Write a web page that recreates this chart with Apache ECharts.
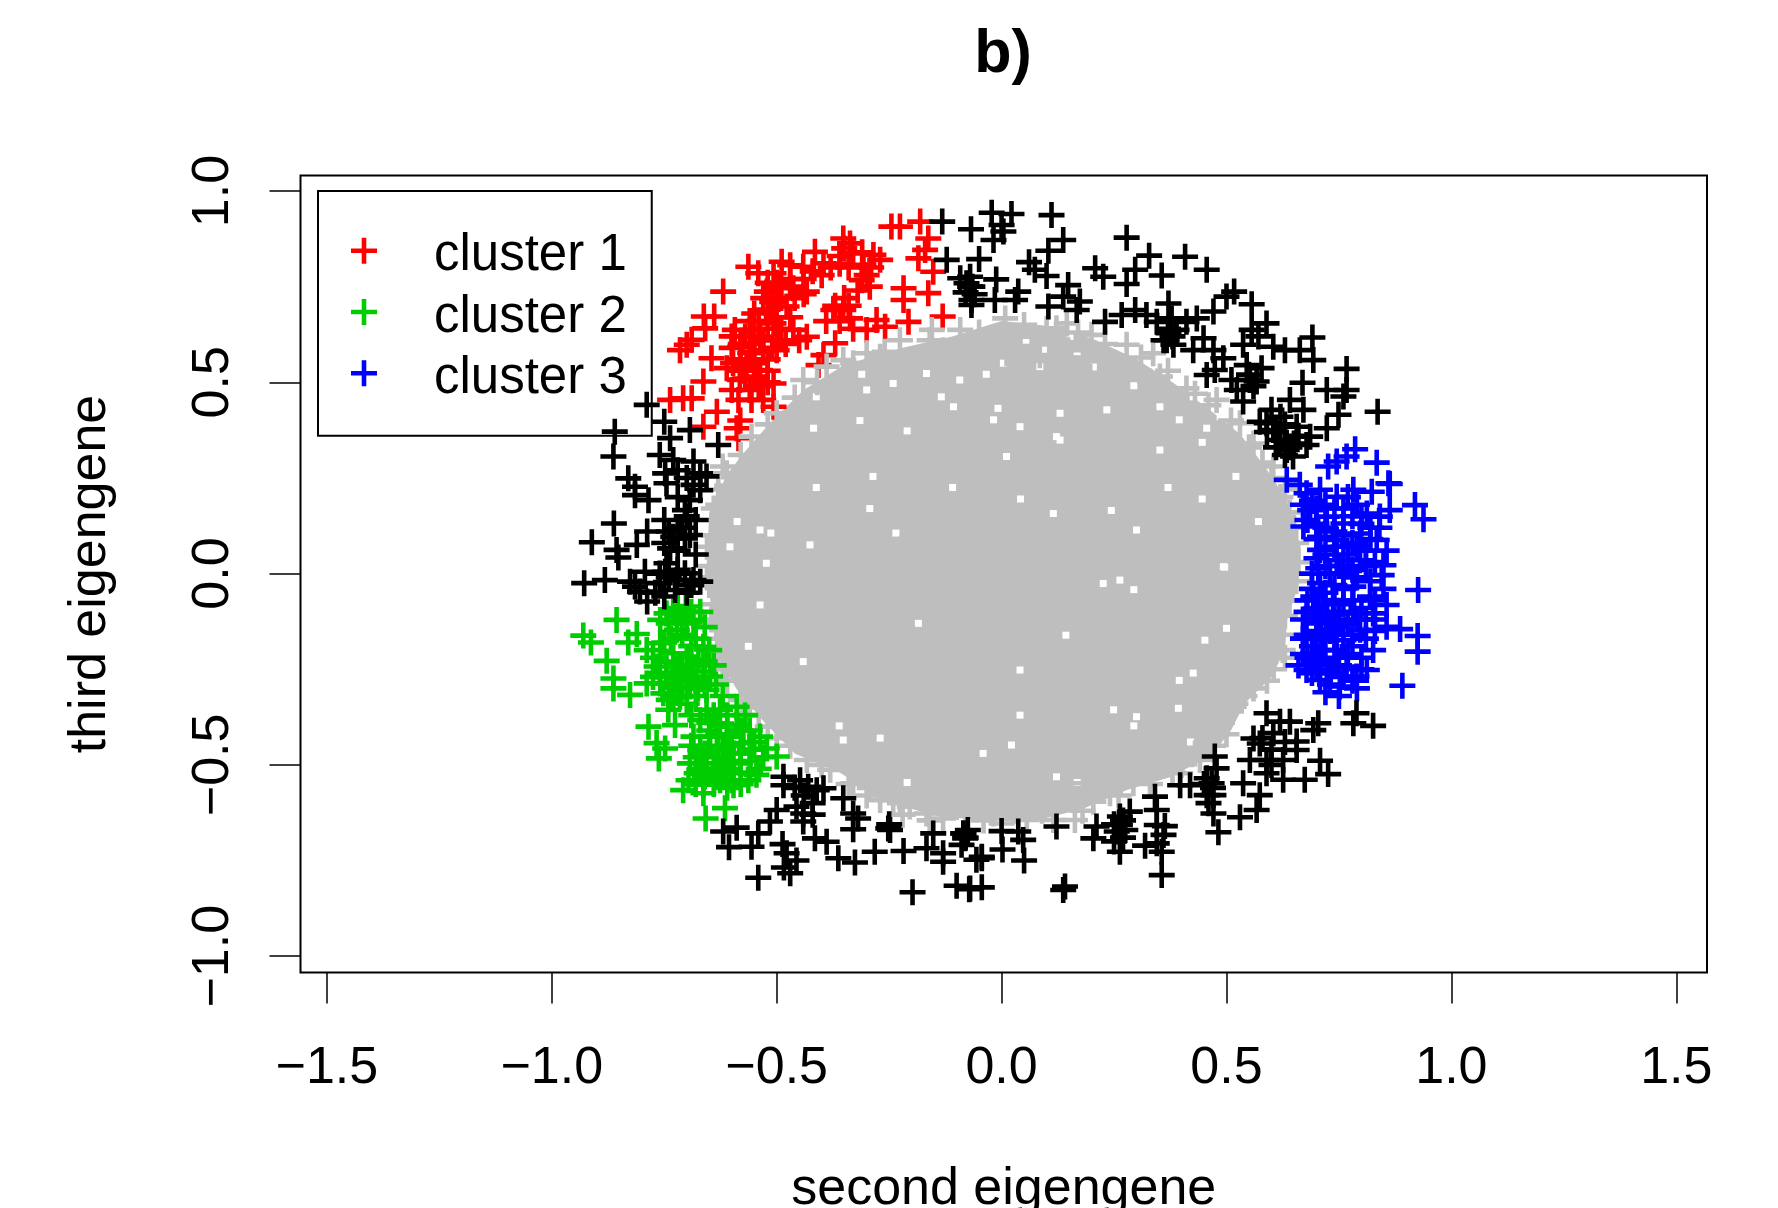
<!DOCTYPE html>
<html><head><meta charset="utf-8"><style>html,body{margin:0;padding:0;background:#fff;overflow:hidden}#c{width:1778px;height:1208px}</style>
<script src="https://cdn.jsdelivr.net/npm/echarts@6/dist/echarts.min.js"></script></head><body><div id="c"></div><script>
const xTicks=[-1.5,-1,-0.5,0,0.5,1,1.5];
const yTicks=[-1,-0.5,0,0.5,1];
const black=[[-0.022,0.943],[0.022,0.94],[0.111,0.937],[-0.068,0.9],[0,0.911],[-0.018,0.872],[0.004,0.894],[0.278,0.878],[0.137,0.872],[0.104,0.844],[-0.05,0.822],[0.328,0.831],[0.408,0.828],[0.061,0.814],[0.456,0.794],[0.208,0.798],[0.226,0.776],[0.297,0.794],[0.356,0.779],[0.278,0.757],[0.074,0.794],[0.1,0.778],[0.148,0.754],[-0.012,0.769],[0.037,0.737],[-0.07,0.776],[-0.07,0.75],[-0.067,0.715],[-0.015,0.715],[0.03,0.715],[0.104,0.698],[0.137,0.724],[0.174,0.711],[0.167,0.689],[0.517,0.737],[0.556,0.704],[0.371,0.706],[0.267,0.676],[0.297,0.689],[0.23,0.658],[0.322,0.676],[0.345,0.658],[0.378,0.667],[0.411,0.658],[0.434,0.667],[0.471,0.685],[0.5,0.724],[0.589,0.654],[0.556,0.637],[0.691,0.617],[0.537,0.598],[0.571,0.62],[0.371,0.628],[0.382,0.598],[0.449,0.615],[0.426,0.584],[0.471,0.584],[0.63,0.584],[0.604,0.593],[0.663,0.584],[0.693,0.558],[0.493,0.563],[0.474,0.532],[0.456,0.519],[0.545,0.545],[0.578,0.537],[0.552,0.506],[0.567,0.502],[0.511,0.506],[0.523,0.48],[0.537,0.45],[0.767,0.535],[0.669,0.499],[0.723,0.48],[0.767,0.48],[0.76,0.463],[0.836,0.423],[0.749,0.415],[0.723,0.38],[0.641,0.454],[0.671,0.428],[0.6,0.428],[0.574,0.397],[0.604,0.375],[0.656,0.384],[0.686,0.358],[0.678,0.336],[0.634,0.323],[0.648,0.306],[0.619,0.349],[0.589,0.393],[0.367,0.61],[0.389,0.637],
[0.826,-0.398],[0.782,-0.391],[0.789,-0.365],[0.704,-0.391],[0.693,-0.409],[0.619,-0.387],[0.589,-0.365],[0.641,-0.387],[0.656,-0.439],[0.656,-0.461],[0.604,-0.417],[0.56,-0.431],[0.574,-0.444],[0.552,-0.487],[0.589,-0.487],[0.626,-0.487],[0.708,-0.489],[0.726,-0.524],[0.674,-0.539],[0.626,-0.539],[0.589,-0.522],[0.537,-0.548],[0.574,-0.579],[0.567,-0.618],[0.53,-0.637],[0.471,-0.627],[0.482,-0.676],[0.471,-0.579],[0.456,-0.579],[0.467,-0.548],[0.456,-0.535],[0.478,-0.509],[0.474,-0.478],[0.419,-0.553],[0.397,-0.553],[0.341,-0.583],[0.345,-0.618],[0.345,-0.657],[0.363,-0.66],[0.36,-0.683],[0.356,-0.727],[0.356,-0.788],[0.263,-0.727],[0.263,-0.635],[0.263,-0.657],[0.256,-0.674],[0.285,-0.622],[0.211,-0.661],[0.204,-0.692],[0.319,-0.711],[0.345,-0.705],[0.122,-0.661],[0.141,-0.818],[0.137,-0.827],[0.048,-0.696],[0.037,-0.674],[0,-0.673],[0.002,-0.721],[0.05,-0.75],[-0.044,-0.744],[-0.044,-0.74],[-0.085,-0.679],[-0.081,-0.692],[-0.044,-0.82],[-0.07,-0.823],
[-0.485,-0.531],[-0.485,-0.553],[-0.448,-0.54],[-0.43,-0.557],[-0.411,-0.566],[-0.396,-0.561],[-0.352,-0.587],[-0.5,-0.618],[-0.515,-0.648],[-0.456,-0.609],[-0.441,-0.627],[-0.441,-0.648],[-0.33,-0.627],[-0.319,-0.64],[-0.33,-0.668],[-0.252,-0.666],[-0.248,-0.67],[-0.589,-0.664],[-0.619,-0.674],[-0.541,-0.679],[-0.556,-0.714],[-0.606,-0.715],[-0.487,-0.707],[-0.478,-0.731],[-0.456,-0.75],[-0.484,-0.768],[-0.47,-0.783],[-0.541,-0.795],[-0.415,-0.692],[-0.389,-0.701],[-0.363,-0.744],[-0.326,-0.755],[-0.282,-0.727],[-0.218,-0.725],[-0.167,-0.718],[-0.152,-0.679],[-0.13,-0.731],[-0.13,-0.753],[-0.085,-0.679],[-0.089,-0.709],[-0.198,-0.833],[-0.1,-0.816],[-0.072,-0.825],[-0.056,-0.748],
[-0.789,0.441],[-0.86,0.371],[-0.863,0.306],[-0.75,0.397],[-0.737,0.354],[-0.693,0.375],[-0.63,0.336],[-0.76,0.31],[-0.73,0.297],[-0.685,0.293],[-0.83,0.249],[-0.748,0.262],[-0.67,0.262],[-0.815,0.227],[-0.745,0.236],[-0.685,0.232],[-0.656,0.254],[-0.815,0.205],[-0.785,0.192],[-0.67,0.218],[-0.693,0.192],[-0.704,0.166],[-0.862,0.131],[-0.788,0.11],[-0.75,0.14],[-0.73,0.096],[-0.693,0.101],[-0.911,0.082],[-0.856,0.062],[-0.852,0.042],[-0.811,0.075],[-0.737,0.066],[-0.704,0.092],[-0.745,0.027],[-0.793,0.005],[-0.748,0.005],[-0.704,0.001],[-0.928,-0.025],[-0.882,-0.017],[-0.826,-0.021],[-0.804,-0.047],[-0.788,-0.073],[-0.76,-0.025],[-0.722,-0.017],[-0.685,-0.017],[-0.67,-0.021],[-0.726,-0.043],[-0.815,-0.034],
[-0.132,0.92],[-0.122,0.82],[-0.078,0.759],[-0.092,0.772],[-0.067,0.702],[-0.06,0.73],[-0.08,0.735],[-0.065,0.75],[0.61,0.37],[0.63,0.35],[0.64,0.33],[0.62,0.41],[0.66,0.36],[0.27,-0.645],[0.25,-0.655],[0.275,-0.67],[-0.72,0.01],[-0.74,-0.01],[-0.71,0.12],[-0.72,0.12],[-0.74,0.11],[-0.76,0],[-0.25,-0.655],[-0.08,-0.69],[-0.075,-0.67],
[-0.72,0.27],[-0.7,0.25],[-0.72,0.2],[-0.7,0.15],[-0.68,0.14],[-0.75,0.08],[-0.72,0.06],[-0.68,0.05],[-0.72,0],[-0.69,-0.03],[-0.77,-0.05],[-0.75,-0.06],[-0.7,-0.05],[0.59,0.37],[0.63,0.39],[0.61,0.33],[0.65,0.34],[0.63,0.31],[0.55,0.52],[0.56,0.49],[0.37,0.64],[0.36,0.61],[0.38,0.62],[0.58,-0.43],[0.6,-0.46],[0.63,-0.44],[0.6,-0.5],[0.45,-0.55],[0.47,-0.56],[0.46,-0.6],[-0.44,-0.58],[-0.42,-0.6],[-0.46,-0.56],[-0.42,-0.63],[0.27,-0.69],[0.25,-0.7]];
const cluster1=[[-0.245,0.907],[-0.226,0.907],[-0.181,0.92],[-0.163,0.876],[-0.185,0.824],[-0.17,0.846],[-0.152,0.789],[-0.163,0.733],[-0.218,0.746],[-0.218,0.715],[-0.131,0.672],[-0.207,0.658],[-0.259,0.645],[-0.3,0.637],[-0.278,0.663],[-0.352,0.876],[-0.337,0.863],[-0.285,0.833],[-0.307,0.807],[-0.33,0.837],[-0.415,0.841],[-0.396,0.811],[-0.441,0.802],[-0.489,0.815],[-0.47,0.806],[-0.563,0.802],[-0.541,0.785],[-0.507,0.785],[-0.311,0.767],[-0.293,0.75],[-0.374,0.689],[-0.352,0.689],[-0.337,0.667],[-0.433,0.737],[-0.463,0.746],[-0.522,0.737],[-0.5,0.72],[-0.478,0.698],[-0.619,0.737],[-0.662,0.672],[-0.639,0.672],[-0.659,0.641],[-0.7,0.598],[-0.689,0.611],[-0.715,0.584],[-0.645,0.563],[-0.593,0.637],[-0.552,0.637],[-0.537,0.619],[-0.507,0.654],[-0.463,0.637],[-0.433,0.619],[-0.581,0.593],[-0.559,0.576],[-0.53,0.584],[-0.5,0.584],[-0.597,0.55],[-0.567,0.541],[-0.537,0.532],[-0.611,0.537],[-0.663,0.502],[-0.737,0.454],[-0.708,0.458],[-0.689,0.458],[-0.37,0.602],[-0.396,0.571],[-0.407,0.545],[-0.507,0.497],[-0.545,0.515],[-0.582,0.506],[-0.585,0.454],[-0.556,0.454],[-0.53,0.454],[-0.633,0.423],[-0.663,0.384],[-0.589,0.38],[-0.581,0.4],[-0.585,0.354],[-0.507,0.436],[-0.56,0.66],[-0.54,0.66],[-0.52,0.69],[-0.5,0.67],[-0.53,0.61],[-0.5,0.61],[-0.47,0.67],[-0.55,0.58],[-0.52,0.56],[-0.57,0.51],[-0.54,0.49],[-0.56,0.48],[-0.47,0.77],[-0.49,0.75],[-0.44,0.77],[-0.4,0.78],[-0.36,0.83],[-0.34,0.8],[-0.3,0.78],[-0.52,0.76],[-0.46,0.72],[-0.51,0.71],[-0.6,0.59],[-0.58,0.56],[-0.35,0.72],[-0.34,0.7],[-0.6,0.62],[-0.57,0.62],[-0.55,0.62],[-0.58,0.6],[-0.56,0.6],[-0.52,0.64],[-0.49,0.64],[-0.51,0.59],[-0.48,0.6],[-0.45,0.61],[-0.55,0.55],[-0.52,0.53],[-0.58,0.53],[-0.55,0.51],[-0.52,0.5],[-0.6,0.48],[-0.53,0.72],[-0.49,0.72],[-0.47,0.75],[-0.44,0.73],[-0.42,0.79],[-0.38,0.8],[-0.35,0.85],[-0.31,0.84],[-0.36,0.81],[-0.32,0.74],[-0.29,0.8],[-0.27,0.82],[-0.39,0.66],[-0.36,0.66],[-0.33,0.64],[-0.37,0.7],[-0.5,0.76],[-0.55,0.68]];
const cluster2=[[-0.93,-0.162],[-0.913,-0.18],[-0.856,-0.121],[-0.811,-0.158],[-0.83,-0.18],[-0.878,-0.228],[-0.863,-0.274],[-0.863,-0.3],[-0.826,-0.317],[-0.785,-0.4],[-0.726,-0.396],[-0.741,-0.356],[-0.767,-0.443],[-0.748,-0.457],[-0.762,-0.483],[-0.711,-0.113],[-0.702,-0.086],[-0.745,-0.104],[-0.759,-0.121],[-0.722,-0.147],[-0.685,-0.121],[-0.663,-0.191],[-0.789,-0.2],[-0.759,-0.182],[-0.73,-0.208],[-0.7,-0.217],[-0.674,-0.226],[-0.767,-0.243],[-0.73,-0.26],[-0.7,-0.269],[-0.663,-0.256],[-0.648,-0.269],[-0.789,-0.287],[-0.759,-0.287],[-0.73,-0.295],[-0.693,-0.295],[-0.656,-0.304],[-0.752,-0.313],[-0.715,-0.322],[-0.589,-0.348],[-0.656,-0.356],[-0.626,-0.356],[-0.67,-0.383],[-0.633,-0.391],[-0.589,-0.396],[-0.537,-0.426],[-0.522,-0.457],[-0.5,-0.478],[-0.685,-0.426],[-0.648,-0.426],[-0.611,-0.426],[-0.574,-0.443],[-0.67,-0.461],[-0.633,-0.461],[-0.596,-0.47],[-0.693,-0.496],[-0.656,-0.496],[-0.619,-0.496],[-0.581,-0.496],[-0.678,-0.522],[-0.633,-0.522],[-0.596,-0.522],[-0.559,-0.522],[-0.708,-0.566],[-0.663,-0.574],[-0.615,-0.613],[-0.658,-0.64],[-0.696,-0.54],[-0.626,-0.54],[-0.563,-0.54],[-0.545,-0.526],[-0.663,-0.552],[-0.596,-0.553],[-0.74,-0.13],[-0.72,-0.09],[-0.69,-0.1],[-0.71,-0.16],[-0.68,-0.17],[-0.75,-0.18],[-0.72,-0.24],[-0.69,-0.24],[-0.76,-0.26],[-0.72,-0.28],[-0.68,-0.28],[-0.66,-0.29],[-0.74,-0.33],[-0.7,-0.34],[-0.68,-0.32],[-0.63,-0.42],[-0.65,-0.39],[-0.61,-0.4],[-0.66,-0.47],[-0.62,-0.46],[-0.58,-0.47],[-0.64,-0.51],[-0.61,-0.51],[-0.66,-0.53],[-0.6,-0.54],[-0.58,-0.41],[-0.56,-0.46],[-0.73,-0.1],[-0.67,-0.1],[-0.7,-0.13],[-0.66,-0.14],[-0.735,-0.17],[-0.69,-0.19],[-0.65,-0.2],[-0.775,-0.22],[-0.745,-0.23],[-0.71,-0.25],[-0.66,-0.23],[-0.64,-0.24],[-0.775,-0.27],[-0.745,-0.27],[-0.71,-0.3],[-0.675,-0.3],[-0.635,-0.29],[-0.73,-0.32],[-0.62,-0.32],[-0.69,-0.37],[-0.64,-0.37],[-0.61,-0.37],[-0.57,-0.37],[-0.65,-0.41],[-0.6,-0.42],[-0.56,-0.41],[-0.69,-0.45],[-0.65,-0.45],[-0.605,-0.45],[-0.55,-0.44],[-0.68,-0.48],[-0.63,-0.48],[-0.6,-0.49],[-0.56,-0.49],[-0.53,-0.48],[-0.67,-0.51],[-0.62,-0.51],[-0.58,-0.52],[-0.54,-0.51],[-0.68,-0.55],[-0.64,-0.55],[-0.61,-0.56],[-0.58,-0.55]];
const cluster3=[[0.786,0.325],[0.834,0.29],[0.745,0.293],[0.726,0.28],[0.767,0.306],[0.86,0.236],[0.634,0.245],[0.863,0.234],[0.823,0.214],[0.919,0.179],[0.938,0.142],[0.863,0.166],[0.841,0.149],[0.812,0.157],[0.782,0.219],[0.745,0.201],[0.708,0.219],[0.678,0.21],[0.663,0.232],[0.686,0.166],[0.723,0.149],[0.76,0.131],[0.671,0.123],[0.708,0.096],[0.745,0.088],[0.797,0.105],[0.834,0.088],[0.856,0.06],[0.708,0.062],[0.745,0.035],[0.797,0.035],[0.849,0.022],[0.704,0.014],[0.76,0.001],[0.845,-0.004],[0.708,-0.025],[0.782,-0.034],[0.849,-0.04],[0.926,-0.043],[0.693,-0.06],[0.737,-0.069],[0.819,-0.06],[0.856,-0.082],[0.678,-0.1],[0.723,-0.104],[0.782,-0.104],[0.826,-0.104],[0.886,-0.145],[0.925,-0.163],[0.925,-0.204],[0.856,-0.139],[0.7,-0.13],[0.745,-0.139],[0.797,-0.147],[0.678,-0.16],[0.715,-0.174],[0.76,-0.174],[0.826,-0.2],[0.693,-0.208],[0.745,-0.2],[0.678,-0.252],[0.723,-0.252],[0.767,-0.243],[0.812,-0.252],[0.891,-0.293],[0.752,-0.295],[0.708,-0.278],[0.789,-0.269],[0.69,0.19],[0.72,0.18],[0.76,0.17],[0.79,0.18],[0.7,0.13],[0.74,0.11],[0.78,0.15],[0.82,0.12],[0.78,0.08],[0.72,0.05],[0.77,0.05],[0.81,0.06],[0.73,0],[0.79,-0.01],[0.82,-0.02],[0.72,-0.05],[0.76,-0.04],[0.8,-0.09],[0.7,-0.09],[0.75,-0.1],[0.71,-0.15],[0.77,-0.13],[0.72,-0.2],[0.78,-0.19],[0.8,-0.22],[0.7,-0.24],[0.75,-0.24],[0.73,-0.29],[0.78,-0.28],[0.69,-0.19],[0.74,-0.16],[0.83,-0.15],[0.68,-0.22],[0.67,0.18],[0.7,0.17],[0.74,0.17],[0.77,0.2],[0.8,0.15],[0.68,0.14],[0.72,0.12],[0.76,0.1],[0.8,0.13],[0.84,0.12],[0.7,0.09],[0.74,0.07],[0.76,0.07],[0.82,0.09],[0.7,0.04],[0.75,0.02],[0.79,0.07],[0.83,0.03],[0.69,0],[0.72,0.02],[0.78,0.01],[0.81,0.02],[0.69,-0.04],[0.74,-0.03],[0.78,-0.07],[0.83,-0.07],[0.68,-0.07],[0.72,-0.08],[0.76,-0.08],[0.81,-0.12],[0.67,-0.12],[0.71,-0.11],[0.74,-0.12],[0.79,-0.12],[0.83,-0.12],[0.67,-0.17],[0.7,-0.17],[0.73,-0.15],[0.78,-0.16],[0.81,-0.17],[0.67,-0.21],[0.71,-0.23],[0.74,-0.22],[0.77,-0.21],[0.8,-0.25],[0.66,-0.24],[0.69,-0.26],[0.73,-0.26],[0.76,-0.27],[0.72,-0.31],[0.75,-0.32],[0.79,-0.3]];
// Gray markers that can be told apart, mostly on the rim of the cloud.
const gray=[[0.008,0.667],[0.067,0.619],[-0.03,0.598],[0.122,0.641],[0.145,0.654],[0.2,0.624],[0.085,0.571],[0.011,0.576],[0.148,0.584],[0.278,0.598],[0.337,0.576],[0.271,0.532],[0.352,0.515],[0.411,0.484],[0.478,0.454],[0.33,0.502],[0.197,0.515],[-0.011,0.48],[0.056,0.48],[0.13,0.489],[-0.155,0.637],[-0.092,0.637],[-0.226,0.61],[-0.3,0.576],[-0.352,0.558],[-0.27,0.567],[-0.389,0.541],[-0.441,0.506],[-0.5,0.419],[-0.556,0.358],[-0.611,0.262],[-0.13,0.584],[-0.211,0.55],[0.53,0.393],[0.604,0.28],[0.56,0.34],[0.63,0.22],[0.64,0.16],[0.655,0.08],[0.66,0.03],[0.655,-0.02],[0.64,-0.07],[0.63,-0.11],[0.62,-0.16],[0.625,-0.2],[0.605,-0.25],[0.56,-0.3],[0.52,-0.34],[0.49,-0.39],[0.5,-0.42],[0.47,-0.45],[0.4,-0.5],[0.441,-0.487],[0.397,-0.522],[0.204,-0.596],[-0.018,-0.627],[0.056,-0.644],[0.115,-0.644],[0.163,-0.644],[0,-0.653],[-0.055,-0.583],[-0.063,-0.613],[0.093,-0.566],[0.152,-0.548],[0.241,-0.574],[0.293,-0.548],[-0.13,-0.64],[-0.167,-0.627],[-0.204,-0.609],[-0.241,-0.592],[-0.27,-0.592],[-0.226,-0.6],[-0.1,-0.61],[-0.33,-0.548],[-0.293,-0.56],[-0.381,-0.513],[-0.433,-0.487],[-0.62,-0.25],[-0.63,-0.2],[-0.63,-0.13],[-0.64,-0.08],[-0.65,-0.03],[-0.65,0.02],[-0.655,0.07],[-0.64,0.1],[-0.64,0.17],[-0.63,0.22],[-0.58,-0.33],[-0.54,-0.37],[-0.5,-0.43],[-0.05,0.63],[0.05,0.65],[0.1,0.64],[0.17,0.63],[0.23,0.6],[0.31,0.565],[0.37,0.53],[0.43,0.47],[0.46,0.44],[0.51,0.4],[0.55,0.33],[0.58,0.29],[0.6,0.25],[0.62,0.2],[0.65,0.12],[-0.16,0.61],[-0.26,0.58],[-0.33,0.55],[-0.41,0.5],[-0.46,0.46],[-0.52,0.39],[-0.58,0.31],[-0.61,0.23],[-0.63,0.18],[-0.62,0.28],[-0.655,-0.01],[-0.65,0.05],[-0.645,-0.12],[-0.63,-0.17],[-0.61,-0.28],[-0.56,-0.35],[-0.52,-0.4],[-0.47,-0.45],[-0.4,-0.5],[-0.34,-0.55],[-0.3,-0.58],[-0.22,-0.63],[-0.16,-0.645],[-0.08,-0.63],[-0.04,-0.645],[0.03,-0.62],[0.09,-0.62],[0.18,-0.62],[0.26,-0.58],[0.33,-0.55],[0.38,-0.52],[0.43,-0.47],[0.46,-0.43],[0.51,-0.36],[0.54,-0.32],[0.59,-0.28],[0.63,-0.22]];
// Outline of the area where gray markers merge and cannot be read singly.
const grayCoreOutline=[[-0.655,0.02],[-0.65,0.16],[-0.61,0.26],[-0.57,0.32],[-0.51,0.4],[-0.44,0.48],[-0.35,0.545],[-0.22,0.59],[-0.11,0.62],[0,0.66],[0.12,0.645],[0.21,0.61],[0.3,0.56],[0.38,0.5],[0.46,0.43],[0.53,0.365],[0.585,0.28],[0.63,0.2],[0.665,0.07],[0.66,-0.03],[0.635,-0.12],[0.63,-0.2],[0.6,-0.27],[0.54,-0.34],[0.51,-0.41],[0.47,-0.47],[0.38,-0.53],[0.28,-0.565],[0.18,-0.615],[0.06,-0.65],[-0.02,-0.645],[-0.14,-0.635],[-0.26,-0.595],[-0.36,-0.52],[-0.46,-0.47],[-0.53,-0.385],[-0.59,-0.3],[-0.635,-0.21],[-0.645,-0.1]];
// Visible white gaps inside that area.
const grayCoreGaps=[[0.122,0.358],[0.011,0.306],[0.041,0.384],[0.352,0.323],[0.456,0.38],[0.085,0.541],[0.004,0.55],[0.204,0.54],[0.093,0.584],[0.152,0.62],[0.382,0.54],[0.426,0.462],[-0.018,0.402],[0.13,0.419],[0.234,0.428],[0.352,0.436],[0.486,0.41],[-0.315,0.4],[-0.418,0.38],[-0.167,0.523],[-0.241,0.497],[-0.3,0.48],[-0.093,0.506],[-0.107,0.436],[-0.523,0.027],[-0.604,0.07],[-0.537,0.114],[-0.426,0.075],[-0.293,0.17],[-0.185,-0.13],[-0.27,-0.43],[-0.352,-0.435],[-0.441,-0.23],[-0.537,-0.082],[0.493,0.018],[0.3,0.114],[0.115,0.157],[0.263,-0.017],[0.226,-0.026],[0.5,-0.143],[0.452,-0.174],[0.426,-0.26],[0.393,-0.352],[0.249,-0.356],[0.3,-0.374],[0.041,-0.252],[0.041,-0.37],[0.022,-0.448],[0.122,-0.531],[-0.041,-0.47],[0.42,-0.44],[-0.008,0.432],[0.13,0.349],[0.446,0.195],[0.496,0.017],[0.055,0.61],[0.37,0.225],[-0.21,0.373],[-0.412,0.462],[-0.513,0.106],[-0.134,0.462],[-0.034,0.521],[0.294,0.491],[0.521,0.254],[0.571,0.136],[-0.311,0.521],[0.168,0.58],[0.395,0.402],[0.446,0.343],[-0.286,0.254],[-0.109,0.225],[-0.412,0.225],[-0.588,0.136],[0.042,0.195],[0.244,0.165],[-0.235,0.106],[0.294,-0.042],[0.143,-0.161],[-0.563,-0.19],[0.395,-0.279],[0.294,-0.398],[0.168,-0.546],[-0.21,-0.546],[-0.361,-0.398]];

const plus='path://M0 10.7L10.7 10.7L10.7 0L15.3 0L15.3 10.7L26 10.7L26 15.3L15.3 15.3L15.3 26L10.7 26L10.7 15.3L0 15.3Z';
// Legend icon: same plus, with an empty tail so it sits above the text centre as in the reference.
const legendPlus=plus+'M13 37.4L13.01 37.4L13 37.4Z';
const font='"Liberation Sans"';
const mk=(name,data,color)=>({name,type:'scatter',data,symbol:plus,symbolSize:26,silent:true,itemStyle:{color,opacity:1,borderWidth:0},emphasis:{disabled:true},animation:false});
const fmt=v=>(v<0?'\u2212':'')+Math.abs(v).toFixed(1);
const chart=echarts.init(document.getElementById('c'),null,{renderer:'canvas'});
chart.setOption({
 animation:false,backgroundColor:'#fff',tooltip:{show:false},
 title:{text:'b)',left:998,top:20,textAlign:'center',textStyle:{fontFamily:font,fontWeight:'bold',fontSize:61,color:'#000'}},
 grid:{left:300.5,top:175.5,width:1406.5,height:797,show:true,borderColor:'#000',borderWidth:2,backgroundColor:'transparent',outerBoundsMode:'none'},
 legend:{left:318,top:191,orient:'vertical',data:['cluster 1','cluster 2','cluster 3'],icon:legendPlus,itemWidth:26,itemHeight:37.4,itemGap:10.3,borderColor:'#000',borderWidth:2,padding:[39.9,25,31.2,33],selectedMode:false,backgroundColor:'transparent',z:20,
  textStyle:{fontFamily:font,fontSize:51,color:'#000',padding:[0,0,0,52]}},
 xAxis:{type:'value',min:-1.5587,max:1.5683,name:'second eigengene',nameLocation:'middle',nameGap:191,nameTextStyle:{fontFamily:font,fontSize:52,color:'#000'},splitLine:{show:false},axisLine:{show:false,onZero:false},
  axisTick:{show:true,length:31,lineStyle:{color:'#000',width:1.5},customValues:xTicks},
  axisLabel:{fontFamily:font,fontSize:52,color:'#000',margin:70,customValues:xTicks,hideOverlap:false,formatter:fmt}},
 yAxis:{type:'value',min:-1.0426,max:1.0405,name:'third eigengene',nameLocation:'middle',nameRotate:90,nameGap:184,nameTextStyle:{fontFamily:font,fontSize:52,color:'#000'},splitLine:{show:false},axisLine:{show:false,onZero:false},
  axisTick:{show:true,length:31,lineStyle:{color:'#000',width:1.5},customValues:yTicks},
  axisLabel:{fontFamily:font,fontSize:52,color:'#000',rotate:90,margin:61,customValues:yTicks,hideOverlap:false,formatter:fmt}},
 series:[
  mk('cluster 1',cluster1,'#ff0000'),
  {type:'custom',name:'core',silent:true,animation:false,data:[0],renderItem:(params,api)=>({type:'polygon',shape:{points:grayCoreOutline.map(q=>api.coord(q))},style:{fill:'#bebebe'}})},
  {type:'scatter',name:'gaps',silent:true,animation:false,data:grayCoreGaps,symbol:'rect',symbolSize:7,itemStyle:{color:'#fff',opacity:1}},
  mk('gray',gray,'#bebebe'),
  mk('cluster 2',cluster2,'#00cd00'),
  mk('cluster 3',cluster3,'#0000ff'),
  mk('black',black,'#000000')
 ]
});
</script></body></html>
